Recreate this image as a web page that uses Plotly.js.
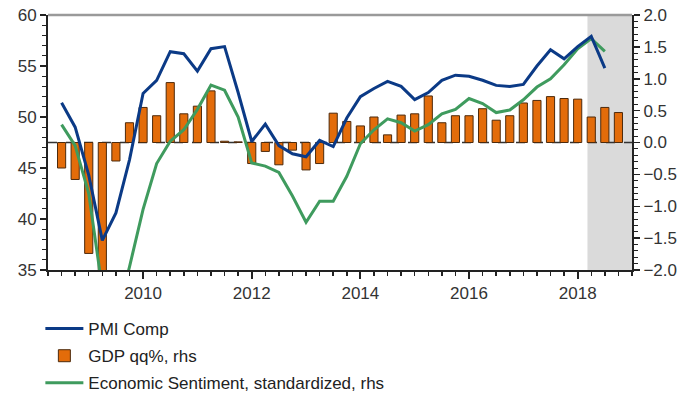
<!DOCTYPE html>
<html>
<head>
<meta charset="utf-8">
<script src="https://cdn.plot.ly/plotly-3.0.1.min.js"></script>
<style>
  html, body { margin: 0; padding: 0; background: #ffffff; }
  #chart { width: 696px; height: 412px; }
</style>
</head>
<body>
<div id="chart"></div>
<script>
// Quarterly positions (decimal years)
const quarters = [
  2008.5, 2008.75, 2009.0, 2009.25, 2009.5, 2009.75,
  2010.0, 2010.25, 2010.5, 2010.75, 2011.0, 2011.25, 2011.5, 2011.75,
  2012.0, 2012.25, 2012.5, 2012.75, 2013.0, 2013.25, 2013.5, 2013.75,
  2014.0, 2014.25, 2014.5, 2014.75, 2015.0, 2015.25, 2015.5, 2015.75,
  2016.0, 2016.25, 2016.5, 2016.75, 2017.0, 2017.25, 2017.5, 2017.75,
  2018.0, 2018.25, 2018.5, 2018.75
];

// GDP qq%, rhs
const gdpQQ = [
  -0.40, -0.58, -1.74, -2.60, -0.29, 0.31,
  0.55, 0.42, 0.94, 0.45, 0.57, 0.81, 0.02, 0.01,
  -0.33, -0.14, -0.35, -0.12, -0.43, -0.33, 0.46, 0.33,
  0.26, 0.40, 0.12, 0.43, 0.45, 0.73, 0.31, 0.42,
  0.42, 0.53, 0.35, 0.42, 0.62, 0.66, 0.72, 0.69,
  0.68, 0.40, 0.55, 0.47
];

// Line series positions
const lineQuarters = [
  2008.5, 2008.75, 2009.0, 2009.25, 2009.5, 2009.75,
  2010.0, 2010.25, 2010.5, 2010.75, 2011.0, 2011.25, 2011.5, 2011.75,
  2012.0, 2012.25, 2012.5, 2012.75, 2013.0, 2013.25, 2013.5, 2013.75,
  2014.0, 2014.25, 2014.5, 2014.75, 2015.0, 2015.25, 2015.5, 2015.75,
  2016.0, 2016.25, 2016.5, 2016.75, 2017.0, 2017.25, 2017.5, 2017.75,
  2018.0, 2018.25, 2018.5
];

// PMI Comp (lhs)
const pmiComp = [
  51.4, 49.0, 44.3, 37.9, 40.6, 45.8,
  52.3, 53.6, 56.4, 56.2, 54.5, 56.7, 56.9, 52.4,
  47.6, 49.3, 47.2, 46.4, 46.1, 47.7, 47.1, 49.9,
  52.0, 52.8, 53.5, 53.0, 51.7, 52.4, 53.6, 54.1,
  54.0, 53.6, 53.1, 53.0, 53.2, 55.0, 56.6, 55.7,
  56.9, 57.9, 54.8
];

// Economic Sentiment, standardized (rhs)
const econSentiment = [
  0.28, -0.05, -0.80, -2.30, -2.80, -1.95,
  -1.05, -0.33, 0.02, 0.20, 0.52, 0.90, 0.82, 0.40,
  -0.32, -0.37, -0.47, -0.84, -1.25, -0.92, -0.92, -0.53,
  -0.02, 0.20, 0.37, 0.31, 0.18, 0.28, 0.45, 0.52,
  0.69, 0.61, 0.47, 0.51, 0.67, 0.87, 1.00, 1.22,
  1.47, 1.63, 1.43
];

const yearTicks = [2010, 2012, 2014, 2016, 2018];
const yearLabels = ['2010', '2012', '2014', '2016', '2018'];
const shadeRange = [2018.18, 2019.0];

const FONT = 'Liberation Sans, Arial, sans-serif';
const TXT = '#333333';

const traces = [
  {
    type: 'scatter', mode: 'lines', name: 'PMI Comp',
    x: lineQuarters, y: pmiComp, yaxis: 'y2',
    line: { color: '#0b3a86', width: 3 },
    legendgroup: 'a'
  },
  {
    type: 'bar', name: 'GDP qq%, rhs',
    x: quarters, y: gdpQQ, yaxis: 'y',
    width: 0.15,
    marker: { color: '#e36c0a', line: { color: '#4d2a0c', width: 1 } },
    legendgroup: 'b'
  },
  {
    type: 'scatter', mode: 'lines', name: 'Economic Sentiment, standardized, rhs',
    x: lineQuarters, y: econSentiment, yaxis: 'y',
    line: { color: '#3f9b5e', width: 3 },
    legendgroup: 'c'
  }
];

const layout = {
  width: 696, height: 412,
  margin: { l: 48, r: 64, t: 15, b: 142, autoexpand: false },
  paper_bgcolor: '#ffffff', plot_bgcolor: '#ffffff',
  font: { family: FONT, size: 17, color: TXT },
  showlegend: true,
  bargap: 0,
  xaxis: {
    range: [2008.25, 2019.0],
    tickmode: 'array', tickvals: yearTicks, ticktext: yearLabels,
    ticks: 'outside', ticklen: 7, tickwidth: 2, tickcolor: '#222',
    showline: true, linecolor: '#222', linewidth: 2,
    showgrid: false, zeroline: false,
    minor: { dtick: 0.25, tick0: 2008, ticks: 'outside', ticklen: 4, tickwidth: 1.5, tickcolor: '#222', showgrid: false },
    tickfont: { family: FONT, size: 17, color: TXT }
  },
  yaxis: {
    side: 'right',
    range: [-2, 2], dtick: 0.5, tick0: 0, tickformat: '.1f',
    ticks: 'outside', ticklen: 6, tickwidth: 1.5, tickcolor: '#222',
    showline: true, linecolor: '#222', linewidth: 2,
    showgrid: false, zeroline: false,
    minor: { dtick: 0.1, ticks: 'outside', ticklen: 4, tickwidth: 1, tickcolor: '#222', showgrid: false },
    tickfont: { family: FONT, size: 17, color: TXT }
  },
  yaxis2: {
    overlaying: 'y', side: 'left',
    range: [35, 60], dtick: 5, tick0: 35,
    ticks: 'outside', ticklen: 6, tickwidth: 1.5, tickcolor: '#222',
    showline: true, linecolor: '#222', linewidth: 2,
    showgrid: false, zeroline: false,
    minor: { dtick: 1, ticks: 'outside', ticklen: 4, tickwidth: 1, tickcolor: '#222', showgrid: false },
    tickfont: { family: FONT, size: 17, color: TXT }
  },
  shapes: [
    {
      type: 'rect', xref: 'x', yref: 'paper',
      x0: shadeRange[0], x1: shadeRange[1], y0: 0, y1: 1,
      fillcolor: '#dadada', line: { width: 0 }, layer: 'below'
    },
    {
      type: 'line', xref: 'paper', yref: 'y',
      x0: 0, x1: 1, y0: 0, y1: 0,
      line: { color: '#333', width: 1.5, dash: 'dash' }, layer: 'below'
    },
    {
      type: 'line', xref: 'paper', yref: 'paper',
      x0: 0, x1: 1, y0: 1, y1: 1,
      line: { color: '#9a9a9a', width: 2.5 }, layer: 'above'
    }
  ],
  legend: {
    xref: 'container', yref: 'container',
    x: 0.058, y: 0.245, xanchor: 'left', yanchor: 'top',
    orientation: 'v', traceorder: 'grouped', tracegroupgap: 2,
    bgcolor: 'rgba(0,0,0,0)', borderwidth: 0,
    itemwidth: 38,
    font: { family: FONT, size: 17, color: '#222' }
  }
};

Plotly.newPlot('chart', traces, layout, { staticPlot: true, displayModeBar: false });
</script>
</body>
</html>
